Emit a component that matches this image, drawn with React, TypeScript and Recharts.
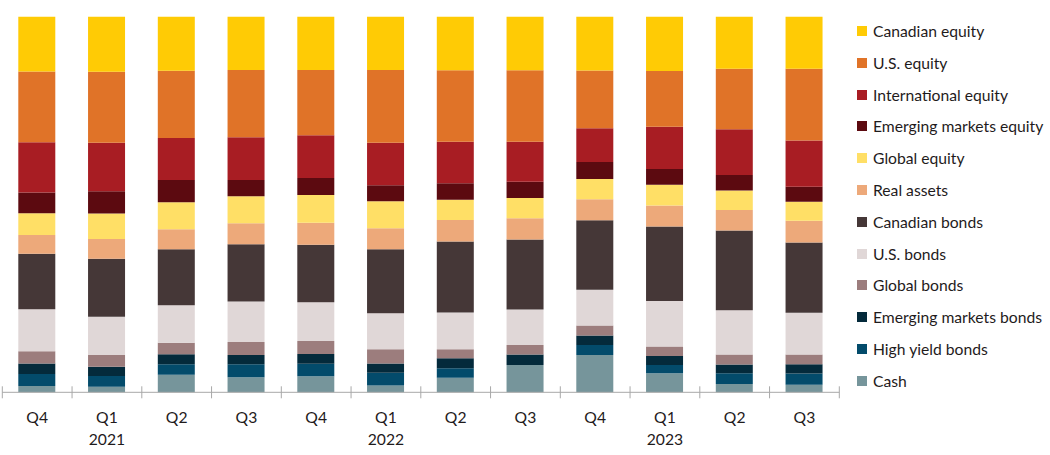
import React from 'react';
import { BarChart, Bar, XAxis, YAxis, Legend } from 'recharts';

// Categories (quarters) and year labels under them
const quarters = ['Q4', 'Q1', 'Q2', 'Q3', 'Q4', 'Q1', 'Q2', 'Q3', 'Q4', 'Q1', 'Q2', 'Q3'];
const years = ['', '2021', '', '', '', '2022', '', '', '', '2023', '', ''];

// Allocation (%) per series
const canadianEquity = [14.6, 14.6, 14.4, 14.2, 14.2, 14.2, 14.3, 14.3, 14.3, 14.5, 13.9, 13.9];
const usEquity = [18.8, 18.9, 17.9, 17.9, 17.4, 19.4, 19.0, 19.0, 15.4, 14.8, 16.1, 19.1];
const internationalEquity = [13.4, 12.9, 11.2, 11.4, 11.4, 11.3, 11.1, 10.7, 9.0, 11.3, 12.2, 12.3];
const emergingEquity = [5.5, 5.9, 5.9, 4.3, 4.5, 4.3, 4.4, 4.3, 4.5, 4.2, 4.1, 4.0];
const globalEquity = [5.8, 6.8, 7.2, 7.2, 7.4, 7.2, 5.4, 5.4, 5.4, 5.5, 5.2, 5.1];
const realAssets = [5.0, 5.2, 5.3, 5.6, 5.9, 5.6, 5.7, 5.7, 5.6, 5.6, 5.5, 5.8];
const canadianBonds = [14.8, 15.4, 14.9, 15.2, 15.3, 17.0, 18.9, 18.6, 18.5, 19.9, 21.2, 18.7];
const usBonds = [11.2, 10.2, 10.0, 10.8, 10.3, 9.6, 9.8, 9.5, 9.5, 12.1, 11.8, 11.1];
const globalBonds = [3.2, 3.1, 3.1, 3.5, 3.5, 3.8, 2.4, 2.5, 2.7, 2.5, 2.7, 2.6];
const emergingBonds = [2.8, 2.5, 2.6, 2.4, 2.6, 2.5, 2.7, 2.8, 2.5, 2.4, 2.3, 2.5];
const highYieldBonds = [3.2, 2.8, 2.8, 3.5, 3.3, 3.4, 2.5, 0, 2.7, 2.2, 2.9, 3.0];
const cash = [1.7, 1.5, 4.7, 4.0, 4.3, 1.8, 3.9, 7.3, 9.9, 5.1, 2.2, 2.0];

// Series stacked from bottom to top
const series = [
  { key: 'cash', name: 'Cash', values: cash, color: '#76959b' },
  { key: 'hy', name: 'High yield bonds', values: highYieldBonds, color: '#034b6b' },
  { key: 'emb', name: 'Emerging markets bonds', values: emergingBonds, color: '#042a3b' },
  { key: 'gb', name: 'Global bonds', values: globalBonds, color: '#9c7d7d' },
  { key: 'usb', name: 'U.S. bonds', values: usBonds, color: '#e0d7d7' },
  { key: 'cab', name: 'Canadian bonds', values: canadianBonds, color: '#453737' },
  { key: 'ra', name: 'Real assets', values: realAssets, color: '#eda97a' },
  { key: 'ge', name: 'Global equity', values: globalEquity, color: '#ffdf66' },
  { key: 'eme', name: 'Emerging markets equity', values: emergingEquity, color: '#5c0a10' },
  { key: 'ie', name: 'International equity', values: internationalEquity, color: '#a81d23' },
  { key: 'use', name: 'U.S. equity', values: usEquity, color: '#e07328' },
  { key: 'cae', name: 'Canadian equity', values: canadianEquity, color: '#ffcb05' },
];

const data = quarters.map((q, i) => {
  const row: Record<string, any> = { q };
  series.forEach((s) => {
    row[s.key] = s.values[i];
  });
  return row;
});

const FONT = 'Lato, "Noto Sans", sans-serif';
const FONT_SIZE = 15.7;
const TEXT = '#1f1b1c';
const AXIS = '#a8a8a8';

const QuarterTick = (props: any) => {
  const { x, y, payload, index, width, visibleTicksCount } = props;
  const half = width && visibleTicksCount ? width / visibleTicksCount / 2 : 0;
  const year = years[index];
  return (
    <g>
      <line x1={x - half} x2={x - half} y1={y - 6} y2={y + 6} stroke={AXIS} strokeWidth={1} />
      {index === visibleTicksCount - 1 && (
        <line x1={x + half} x2={x + half} y1={y - 6} y2={y + 6} stroke={AXIS} strokeWidth={1} />
      )}
      <text x={x} y={y + 31} textAnchor="middle" fontFamily={FONT} fontSize={FONT_SIZE} fill={TEXT}>
        {payload.value}
      </text>
      {year && (
        <text x={x} y={y + 53} textAnchor="middle" fontFamily={FONT} fontSize={FONT_SIZE} fill={TEXT}>
          {year}
        </text>
      )}
    </g>
  );
};

const LegendContent = () => (
  <div style={{ fontFamily: FONT, fontSize: FONT_SIZE, color: TEXT }}>
    {series
      .slice()
      .reverse()
      .map((s) => (
        <div key={s.key} style={{ display: 'flex', alignItems: 'center', height: 31.8, whiteSpace: 'nowrap' }}>
          <span style={{ display: 'inline-block', width: 10, height: 10, background: s.color, marginRight: 6 }} />
          <span>{s.name}</span>
        </div>
      ))}
  </div>
);

export default function App() {
  return (
    <div style={{ position: 'absolute', left: 0, top: 0, width: 1050, height: 455, background: '#fff' }}>
      <BarChart
        width={1050}
        height={455}
        data={data}
        stackOffset="expand"
        margin={{ top: 16.7, right: 210.7, left: 2.3, bottom: 0 }}
      >
        <XAxis
          dataKey="q"
          height={62.7}
          interval={0}
          tickLine={false}
          tickSize={0}
          tickMargin={0}
          axisLine={{ stroke: AXIS, strokeWidth: 1 }}
          tick={<QuarterTick />}
        />
        <YAxis hide domain={[0, 1]} />
        <Legend
          layout="horizontal"
          verticalAlign="middle"
          align="center"
          content={<LegendContent />}
          wrapperStyle={{ left: 857, top: 15.1, width: 192 }}
        />
        {series.map((s) => (
          <Bar
            key={s.key}
            dataKey={s.key}
            name={s.name}
            stackId="a"
            fill={s.color}
            barSize={37}
            isAnimationActive={false}
          />
        ))}
      </BarChart>
    </div>
  );
}
